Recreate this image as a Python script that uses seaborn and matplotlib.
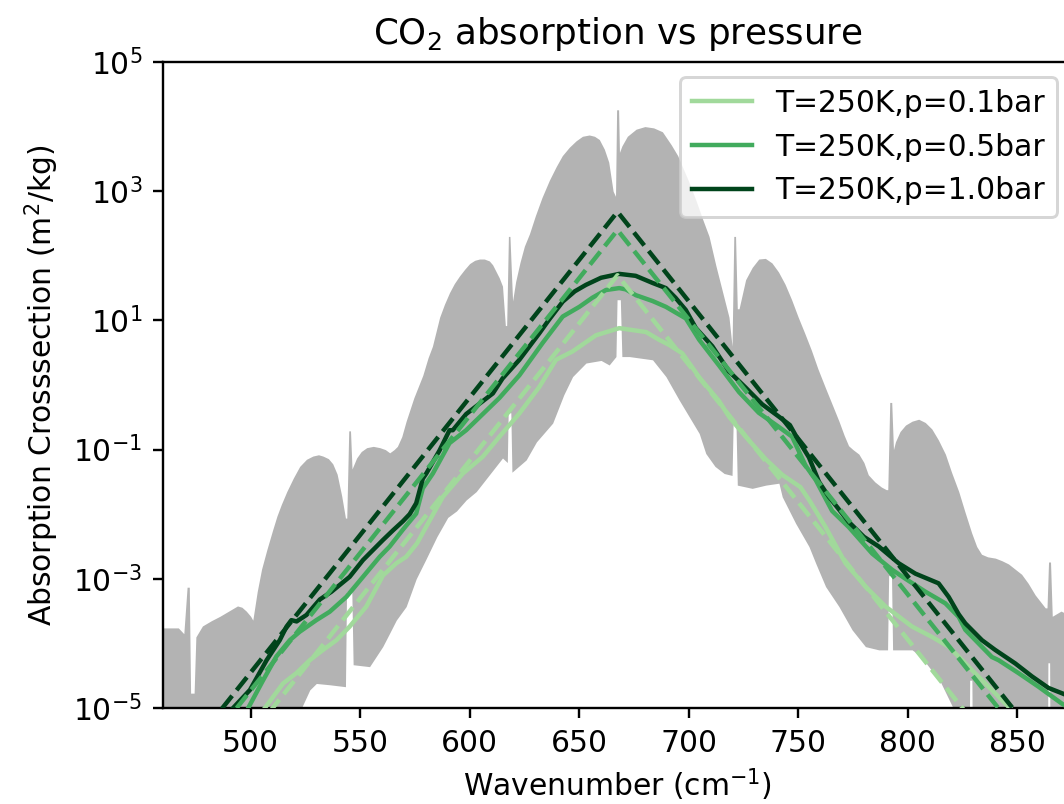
import numpy as np
import matplotlib
matplotlib.use("Agg")
import matplotlib.pyplot as plt
from matplotlib.ticker import FixedLocator, NullLocator, LogFormatterMathtext
import seaborn as sns

# ---------------------------------------------------------------------------
# Line-by-line CO2 cross-section at 250 K: upper and lower envelope of the
# dense spectrum (wavenumber in cm^-1, log10 of cross-section in m^2/kg)
# ---------------------------------------------------------------------------
env_upper_nu = [460, 467, 469.5, 471, 472, 472.6, 474.2, 475, 478, 482, 486, 490,
                494, 496, 498, 500, 501, 503, 505, 507.4, 510, 512, 514, 516.5,
                519.5, 522.4, 525.5, 528.4, 531, 533, 535.5, 537.5, 539.5, 541.6,
                543.3, 543.9, 544.8, 545.6, 546.3, 548.4, 550.5, 553, 556, 559,
                561.5, 563.5, 565.5, 567, 569, 571, 574.5, 578.6, 581, 583, 586.3,
                588.5, 590.8, 593, 595.4, 597.7, 600, 602.3, 604.5, 606.7, 609,
                610.5, 612, 613.5, 615, 616.3, 616.9, 617.7, 618.4, 619.6, 621,
                623, 625, 627.3, 630, 633, 636.4, 639.5, 642.3, 645.5, 648.6,
                651.5, 654.6, 657, 659.2, 661.5, 663.5, 665.5, 666.6, 667.1, 668,
                668.4, 669.5, 672, 676, 680, 684, 688, 692, 695, 697.1, 700, 703.3,
                706, 709.3, 712.4, 715.4, 718.4, 719.8, 720.6, 721.4, 722.2, 723,
                726, 729, 732, 735, 738, 741, 744, 747, 750, 753, 756, 759, 762.5,
                765.5, 768.6, 771, 773, 775, 777.7, 780, 782, 785, 788, 790.2,
                790.9, 791.8, 792.7, 793.5, 794.4, 796.5, 799, 802, 805, 808, 811,
                814, 817.2, 820, 823.3, 826, 829.2, 831.5, 833.7, 836.5, 840, 843,
                846, 849, 852, 855, 858.2, 860.5, 862.8, 863.6, 864.3, 865.2, 866,
                870, 876]
env_upper_log = [-3.76, -3.76, -3.85, -3.13, -3.13, -4.77, -4.77, -3.90, -3.73, -3.65,
                 -3.58, -3.50, -3.42, -3.44, -3.50, -3.58, -3.64, -3.20, -2.85, -2.55,
                 -2.25, -2.03, -1.85, -1.65, -1.44, -1.26, -1.15, -1.10, -1.08, -1.10,
                 -1.14, -1.22, -1.38, -1.72, -2.06, -2.06, -0.71, -0.71, -1.30, -1.13,
                 -1.03, -0.97, -0.95, -0.97, -1.00, -1.05, -1.00, -0.95, -0.80, -0.56,
                 -0.20, 0.15, 0.42, 0.60, 1.05, 1.25, 1.43, 1.57, 1.69, 1.79, 1.88,
                 1.93, 1.95, 1.95, 1.92, 1.86, 1.76, 1.66, 1.53, 0.92, 0.92, 2.30,
                 2.30, 1.30, 1.60, 1.90, 2.15, 2.34, 2.62, 2.90, 3.17, 3.38, 3.55,
                 3.68, 3.78, 3.85, 3.87, 3.85, 3.80, 3.65, 3.45, 3.00, 2.92, 4.26,
                 4.26, 3.60, 3.70, 3.85, 3.96, 4.00, 3.98, 3.92, 3.72, 3.55, 3.38,
                 3.15, 2.86, 2.60, 2.30, 1.85, 1.45, 1.05, 0.60, 2.30, 2.30, 1.18,
                 1.18, 1.63, 1.82, 1.95, 1.96, 1.89, 1.75, 1.56, 1.32, 1.05, 0.80,
                 0.54, 0.25, -0.05, -0.30, -0.56, -0.78, -0.94, -1.00, -1.07, -1.20,
                 -1.39, -1.50, -1.58, -1.62, -1.62, -0.27, -0.27, -1.00, -0.88, -0.72,
                 -0.62, -0.56, -0.53, -0.58, -0.68, -0.85, -1.07, -1.35, -1.65, -1.95,
                 -2.29, -2.50, -2.62, -2.66, -2.68, -2.72, -2.77, -2.85, -2.93, -3.07,
                 -3.25, -3.35, -3.45, -3.45, -2.74, -2.74, -3.58, -3.50, -3.60]

env_lower_nu = [460, 521, 523.2, 527, 530, 536, 543.3, 543.8, 546.2, 546.8, 554.3,
                560.3, 563.5, 566.5, 571, 575.6, 580, 585, 590, 594, 598.4, 603,
                609, 615, 617.2, 617.6, 618.8, 619.3, 625.8, 630.5, 637.9, 643, 647,
                653.1, 660, 663.7, 666.8, 667.3, 668.8, 669.5, 672.9, 683.5, 689.6,
                695.6, 704.8, 707.8, 712, 716.2, 719.8, 720.3, 721.6, 722.2, 729,
                735.2, 741.2, 742.7, 748.8, 754.9, 758, 762.5, 768.6, 774.6, 780.7,
                786.8, 790.8, 791.3, 792.6, 793.1, 802, 806, 815, 825, 828, 828.3,
                829.3, 829.6, 863.8, 864, 864.8, 865, 876]
env_lower_log = [-6, -6, -5.0, -4.72, -4.62, -4.64, -4.67, -3.20, -3.20, -4.33, -4.36,
                 -4.05, -3.84, -3.64, -3.43, -3.00, -2.70, -2.35, -2.05, -1.95, -1.78,
                 -1.65, -1.39, -1.13, -1.20, -0.43, -0.43, -1.35, -1.16, -0.88, -0.59,
                 -0.15, 0.13, 0.34, 0.38, 0.31, 0.44, 1.32, 1.32, 0.44, 0.44, 0.39,
                 0.13, -0.23, -0.75, -1.06, -1.26, -1.37, -1.40, -0.60, -0.60, -1.55,
                 -1.60, -1.55, -1.52, -1.73, -2.14, -2.50, -2.76, -3.12, -3.43, -3.79,
                 -4.05, -4.10, -4.10, -2.95, -2.95, -4.10, -4.10, -4.20, -4.60, -5.30,
                 -6, -4.57, -4.57, -6, -6, -4.30, -4.30, -6, -6]

# ---------------------------------------------------------------------------
# Band-averaged cross-sections (log10) for three pressures
# ---------------------------------------------------------------------------
nu_p01 = [506.5, 514.8, 520.9, 527, 533.1, 539.2, 545.2, 552.8, 560.4, 566.5, 571,
          576, 580.2, 587.8, 596.9, 606, 613.6, 622.7, 631.8, 639.4, 647, 657.7,
          668.3, 680.5, 686.5, 691.1, 697.1, 704.8, 713.9, 718.4, 726, 735.2, 742.7,
          751, 755, 762.5, 771.6, 780.7, 789.9, 802, 811.1, 818.7, 826.3, 835.4,
          846, 850]
log_p01 = [-5.0, -4.62, -4.46, -4.26, -4.10, -3.95, -3.74, -3.43, -2.95, -2.76, -2.66,
           -2.45, -2.19, -1.73, -1.37, -1.11, -0.80, -0.44, -0.03, 0.39, 0.52, 0.77,
           0.88, 0.82, 0.70, 0.62, 0.49, 0.12, -0.25, -0.49, -0.80, -1.15, -1.39,
           -1.58, -1.78, -2.20, -2.76, -3.12, -3.43, -3.74, -3.90, -4.05, -4.31,
           -4.62, -4.98, -5.10]

nu_p05 = [498.9, 505.7, 511.8, 517.9, 522.4, 530, 536.1, 543.7, 551.3, 558.9, 563.5,
          569.5, 575.6, 578.6, 583.2, 590.8, 598.4, 606, 613.6, 622.7, 633.3, 642.5,
          650.1, 656, 662.2, 668.3, 671.3, 675.9, 683.5, 689.6, 698.7, 704.8, 713.9,
          723, 732, 741.2, 747.2, 753.4, 758, 765.5, 773.1, 783.8, 792.9, 799,
          808.1, 817.2, 823.3, 826.3, 838.4, 841.5, 850.6, 859.7, 870.3, 876]
log_p05 = [-5.0, -4.57, -4.20, -3.95, -3.82, -3.64, -3.51, -3.28, -2.97, -2.66, -2.50,
           -2.24, -1.99, -1.60, -1.37, -0.90, -0.70, -0.45, -0.20, 0.15, 0.65, 1.06,
           1.21, 1.35, 1.47, 1.50, 1.48, 1.39, 1.30, 1.21, 1.03, 0.70, 0.30, -0.11,
           -0.43, -0.65, -0.80, -1.25, -1.47, -1.95, -2.20, -2.61, -2.86, -3.00,
           -3.20, -3.38, -3.59, -3.79, -4.21, -4.26, -4.46, -4.67, -4.93, -5.05]

nu_p10 = [492, 499.7, 507.3, 513.3, 516.4, 518.6, 521, 525.5, 531.6, 536.9, 545.2,
          551.3, 560.4, 565, 569.5, 572.6, 575.6, 578.6, 580.2, 586.3, 590.8, 592.3,
          598.4, 606, 610.6, 615, 622.7, 631.8, 636, 642.5, 648, 653.1, 660, 668.3,
          675.8, 683.5, 689.6, 694, 698.7, 703.3, 710.8, 718.4, 726, 733.6, 741.2,
          746.2, 750, 754.9, 759.5, 764, 768, 773.1, 780, 786.8, 795.9, 803.5,
          814.1, 818.7, 823.3, 826.3, 833.9, 839.9, 849.1, 856.7, 864.3, 870.3, 876]
log_p10 = [-5.0, -4.72, -4.26, -3.95, -3.74, -3.64, -3.66, -3.56, -3.32, -3.20, -2.97,
           -2.71, -2.40, -2.25, -2.11, -2.00, -1.83, -1.45, -1.37, -1.01, -0.70, -0.70,
           -0.45, -0.25, -0.13, 0.10, 0.39, 0.80, 1.00, 1.29, 1.45, 1.55, 1.66, 1.72,
           1.69, 1.58, 1.50, 1.35, 1.16, 0.88, 0.60, 0.21, -0.04, -0.30, -0.49,
           -0.62, -0.85, -1.12, -1.50, -1.73, -1.90, -2.12, -2.35, -2.50, -2.76,
           -2.92, -3.07, -3.28, -3.55, -3.69, -3.95, -4.10, -4.31, -4.51, -4.69,
           -4.77, -4.85]

# Exponential band-shape fits: vertices at the plot edges and at the band centre
fit_nu = [460, 667.5, 875]
fit_p01 = [7.4e-8, 50.0, 7.4e-8]
fit_p05 = [3.7e-7, 250.0, 3.7e-7]
fit_p10 = [7.0e-7, 480.0, 7.0e-7]

labels = ["T=250K,p=0.1bar", "T=250K,p=0.5bar", "T=250K,p=1.0bar"]
colors = ["#a1d99b", "#41ab5d", "#00441b"]

# ---------------------------------------------------------------------------
DPI = 214
fig = plt.figure(figsize=(1064 / DPI, 804 / DPI), dpi=DPI)
ax = fig.add_axes([0.1532, 0.1194, 0.8543, 0.8035])

ax.fill_between(env_upper_nu, 1e-6, 10.0 ** np.array(env_upper_log),
                color="0.7", lw=0, zorder=1)
ax.fill_between(env_lower_nu, 1e-6, 10.0 ** np.array(env_lower_log),
                color="white", lw=0, zorder=1.5)

solid = [(nu_p01, log_p01), (nu_p05, log_p05), (nu_p10, log_p10)]
for (nu, lg), lab, col in zip(solid, labels, colors):
    sns.lineplot(x=nu, y=10.0 ** np.array(lg), color=col, lw=1.5, label=lab,
                 ax=ax, zorder=3)

for fit, col in zip([fit_p01, fit_p05, fit_p10], colors):
    sns.lineplot(x=fit_nu, y=fit, color=col, lw=1.5, linestyle="--", ax=ax,
                 zorder=4, legend=False)

ax.set_yscale("log")
ax.set_xlim(460, 875)
ax.set_ylim(1e-5, 1e5)
ax.yaxis.set_major_locator(FixedLocator([1e-5, 1e-3, 1e-1, 1e1, 1e3, 1e5]))
ax.yaxis.set_major_formatter(LogFormatterMathtext())
ax.yaxis.set_minor_locator(NullLocator())
ax.set_xticks([500, 550, 600, 650, 700, 750, 800, 850])

ax.set_xlabel("Wavenumber (cm$^{-1}$)", labelpad=3.0)
ax.set_ylabel("Absorption Crosssection (m$^2$/kg)")
ax.set_title("CO$_2$ absorption vs pressure")

handles, labs = ax.get_legend_handles_labels()
ax.legend(handles[:3], labs[:3], loc="upper right")

fig.savefig("out.png", dpi=DPI)
